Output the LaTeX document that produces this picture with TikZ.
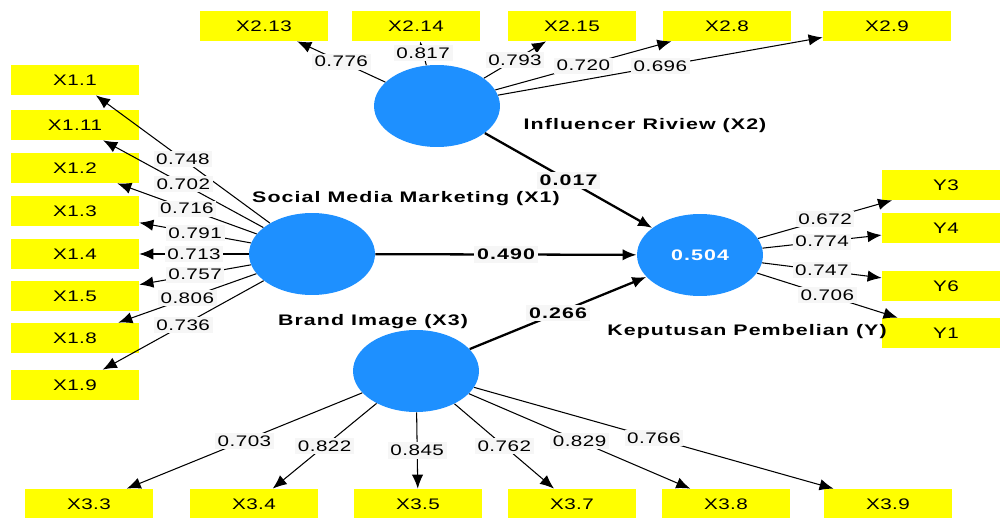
\documentclass[tikz,border=0pt]{standalone}
\usepackage{fontspec}
\usepackage{tikz}
\usetikzlibrary{arrows.meta,shapes.geometric}
\newfontfamily\plsfont[FakeStretch=1.35,LetterSpace=3]{Liberation Sans}
\newfontfamily\plsbfont[FakeStretch=1.4,LetterSpace=7]{Liberation Sans Bold}
\definecolor{lvblue}{RGB}{30,144,255}
\definecolor{indyellow}{RGB}{255,255,0}
\definecolor{lblgray}{RGB}{246,246,246}

\begin{document}
\begin{tikzpicture}[x=0.02cm,y=-0.02cm,>={Latex[length=8pt,width=6.5pt]},
  font=\plsfont\fontsize{8.7}{10}\selectfont,
  ind/.style={fill=indyellow,minimum width=2.56cm,minimum height=0.6cm,inner sep=0pt},
  lv/.style={ellipse,fill=lvblue,minimum width=2.52cm,minimum height=1.64cm,inner sep=0pt},
  ld/.style={fill=lblgray,inner sep=1.5pt,midway},
  lvname/.style={font=\plsbfont\fontsize{8.7}{10}\selectfont},
  load/.style={->,line width=0.6pt},
  coef/.style={->,line width=1.3pt}]
\useasboundingbox (0,0) rectangle (1000,517);
% indicators
\node[ind] (x213) at (264,26) {X2.13};
\node[ind] (x214) at (416,26) {X2.14};
\node[ind] (x215) at (572,26) {X2.15};
\node[ind] (x28) at (727,26) {X2.8};
\node[ind] (x29) at (887,26) {X2.9};
\node[ind] (x11) at (75,80) {X1.1};
\node[ind] (x111) at (75,125) {X1.11};
\node[ind] (x12) at (75,168) {X1.2};
\node[ind] (x13) at (75,211) {X1.3};
\node[ind] (x14) at (75,254) {X1.4};
\node[ind] (x15) at (75,296) {X1.5};
\node[ind] (x18) at (75,338) {X1.8};
\node[ind] (x19) at (75,385) {X1.9};
\node[ind] (x33) at (89,504) {X3.3};
\node[ind] (x34) at (254,504) {X3.4};
\node[ind] (x35) at (418,504) {X3.5};
\node[ind] (x37) at (572,504) {X3.7};
\node[ind] (x38) at (726,504) {X3.8};
\node[ind] (x39) at (888,504) {X3.9};
\node[ind] (y3) at (946,185) {Y3};
\node[ind] (y4) at (946,228) {Y4};
\node[ind] (y6) at (946,286) {Y6};
\node[ind] (y1) at (946,333) {Y1};
% latent variables
\node[lv] (inf) at (437,106) {};
\node[lv] (smm) at (312,254) {};
\node[lv] (bri) at (416,371) {};
\node[lv,text=white,lvname] (kep) at (700,255) {0.504};
\node[lvname] (infname) at (645,126) {Influencer Riview (X2)};
\node[lvname] (smmname) at (406,199) {Social Media Marketing (X1)};
\node[lvname] (briname) at (373,322) {Brand Image (X3)};
\node[lvname] (kepname) at (747,332) {Keputusan Pembelian (Y)};
% outer loadings
\draw[load] (inf) -- (x213) node[ld] {0.776};
\draw[load] (inf) -- (x214) node[ld] {0.817};
\draw[load] (inf) -- (x215) node[ld] {0.793};
\draw[load] (inf) -- (x28) node[ld] {0.720};
\draw[load] (inf) -- (x29) node[ld] {0.696};
\draw[load] (smm) -- (x11) node[ld] {0.748};
\draw[load] (smm) -- (x111) node[ld] {0.702};
\draw[load] (smm) -- (x12) node[ld] {0.716};
\draw[load] (smm) -- (x13) node[ld] {0.791};
\draw[load] (smm) -- (x14) node[ld] {0.713};
\draw[load] (smm) -- (x15) node[ld] {0.757};
\draw[load] (smm) -- (x18) node[ld] {0.806};
\draw[load] (smm) -- (x19) node[ld] {0.736};
\draw[load] (bri) -- (x33) node[ld] {0.703};
\draw[load] (bri) -- (x34) node[ld] {0.822};
\draw[load] (bri) -- (x35) node[ld] {0.845};
\draw[load] (bri) -- (x37) node[ld] {0.762};
\draw[load] (bri) -- (x38) node[ld] {0.829};
\draw[load] (bri) -- (x39) node[ld] {0.766};
\draw[load] (kep) -- (y3) node[ld] {0.672};
\draw[load] (kep) -- (y4) node[ld] {0.774};
\draw[load] (kep) -- (y6) node[ld] {0.747};
\draw[load] (kep) -- (y1) node[ld] {0.706};
% path coefficients
\draw[coef] (inf) -- (kep) node[ld,lvname] {0.017};
\draw[coef] (smm) -- (kep) node[ld,lvname] {0.490};
\draw[coef] (bri) -- (kep) node[ld,lvname] {0.266};
\end{tikzpicture}
\end{document}
